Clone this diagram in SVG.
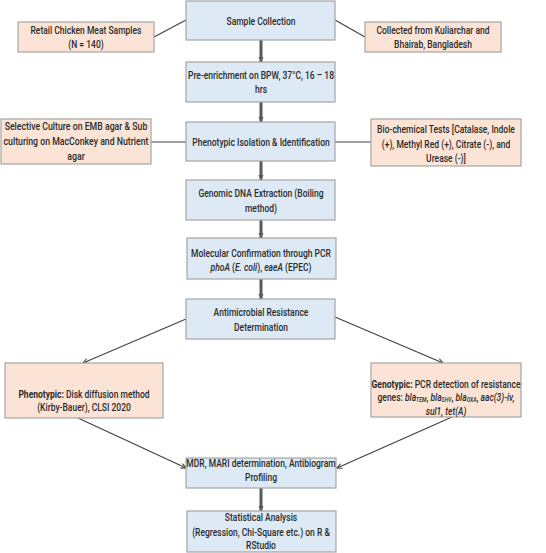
<svg xmlns="http://www.w3.org/2000/svg" width="546" height="553" viewBox="0 0 546 553">
<style>
.blue{fill:#dde9f5;stroke:#a6a6a6;stroke-width:1.2}
.peach{fill:#fbe4d5;stroke:#a6a6a6;stroke-width:1.2}
text{font-family:"Roboto","Liberation Sans",sans-serif;font-size:11.5px;font-weight:500;fill:#2b2b2b;text-anchor:middle}
.b{font-weight:bold}
.i{font-style:italic}
.thick{stroke:#595959;stroke-width:3;fill:none}
.thin{stroke:#404040;stroke-width:1.1;fill:none}
</style>
<defs>
<marker id="ah" markerWidth="6" markerHeight="6" refX="5" refY="3" orient="auto" markerUnits="userSpaceOnUse">
<path d="M0,0.5 L5,3 L0,5.5 Z" fill="#595959"/>
</marker>
<marker id="av" markerWidth="7" markerHeight="7" refX="6" refY="3.5" orient="auto" markerUnits="userSpaceOnUse">
<path d="M1,1 L6,3.5 L1,6" fill="none" stroke="#404040" stroke-width="1.1"/>
</marker>
</defs>
<g id="connectors">
<line class="thin" x1="154" y1="37" x2="186" y2="20"/>
<line class="thin" x1="335" y1="20" x2="365" y2="37"/>
<line class="thick" x1="261" y1="40" x2="261" y2="62" marker-end="url(#ah)"/>
<line class="thick" x1="261" y1="102" x2="261" y2="122" marker-end="url(#ah)"/>
<line class="thin" x1="151" y1="142" x2="186" y2="142"/>
<line class="thin" x1="335" y1="142" x2="371" y2="142"/>
<line class="thick" x1="261" y1="161" x2="261" y2="180" marker-end="url(#ah)"/>
<line class="thick" x1="261" y1="220" x2="261" y2="238" marker-end="url(#ah)"/>
<line class="thick" x1="261" y1="279" x2="261" y2="299" marker-end="url(#ah)"/>
<line class="thin" x1="186" y1="319" x2="83" y2="363" marker-end="url(#av)"/>
<line class="thin" x1="335" y1="317" x2="443" y2="363" marker-end="url(#av)"/>
<line class="thin" x1="78" y1="418" x2="186" y2="468" marker-end="url(#av)"/>
<line class="thin" x1="452" y1="417" x2="337" y2="468" marker-end="url(#av)"/>
<line class="thick" x1="261" y1="488" x2="261" y2="511" marker-end="url(#ah)"/>
</g>
<g id="sample"><rect class="blue" x="186" y="1" width="149" height="39"/><g transform="matrix(0.74,0,0,1,261,0)"><text x="0" y="25">Sample Collection</text></g></g>
<g id="retail"><rect class="peach" x="18" y="22" width="136" height="30"/><g transform="matrix(0.74,0,0,1,86,0)"><text x="0" y="34">Retail Chicken Meat Samples</text><text x="0" y="48">(N = 140)</text></g></g>
<g id="collected"><rect class="peach" x="365" y="22" width="136" height="30"/><g transform="matrix(0.74,0,0,1,433,0)"><text x="0" y="34">Collected from Kuliarchar and</text><text x="0" y="48">Bhairab, Bangladesh</text></g></g>
<g id="preenrich"><rect class="blue" x="186" y="62" width="149" height="40"/><g transform="matrix(0.74,0,0,1,261,0)"><text x="0" y="79">Pre-enrichment on BPW, 37°C, 16 – 18</text><text x="0" y="93">hrs</text></g></g>
<g id="selective"><rect class="peach" x="1" y="119" width="150" height="45"/><g transform="matrix(0.76,0,0,1,76,0)"><text x="0" y="130">Selective Culture on EMB agar &amp; Sub</text><text x="0" y="145">culturing on MacConkey and Nutrient</text><text x="0" y="160">agar</text></g></g>
<g id="phenoiso"><rect class="blue" x="186" y="122" width="149" height="39"/><g transform="matrix(0.74,0,0,1,261,0)"><text x="0" y="146">Phenotypic Isolation &amp; Identification</text></g></g>
<g id="biochem"><rect class="peach" x="371" y="119" width="150" height="47"/><g transform="matrix(0.74,0,0,1,446,0)"><text x="0" y="133">Bio-chemical Tests [Catalase, Indole</text><text x="0" y="148">(+), Methyl Red (+), Citrate (-), and</text><text x="0" y="162">Urease (-)]</text></g></g>
<g id="genomic"><rect class="blue" x="186" y="180" width="149" height="40"/><g transform="matrix(0.74,0,0,1,261,0)"><text x="0" y="197">Genomic DNA Extraction (Boiling</text><text x="0" y="212">method)</text></g></g>
<g id="molecular"><rect class="blue" x="187" y="238" width="149" height="41"/><g transform="matrix(0.74,0,0,1,261,0)"><text x="0" y="257">Molecular Confirmation through PCR</text><text x="0" y="271"><tspan class="i">phoA</tspan> (<tspan class="i">E. coli</tspan>), <tspan class="i">eaeA</tspan> (EPEC)</text></g></g>
<g id="amr"><rect class="blue" x="186" y="299" width="149" height="40"/><g transform="matrix(0.74,0,0,1,261,0)"><text x="0" y="316">Antimicrobial Resistance</text><text x="0" y="331">Determination</text></g></g>
<g id="phenotypic"><rect class="peach" x="5" y="363" width="158" height="55"/><g transform="matrix(0.74,0,0,1,84,0)"><text x="0" y="398"><tspan class="b">Phenotypic:</tspan> Disk diffusion method</text><text x="0" y="411">(Kirby-Bauer), CLSI 2020</text></g></g>
<g id="genotypic"><rect class="peach" x="371" y="363" width="150" height="54"/><g transform="matrix(0.74,0,0,1,446,0)"><text x="0" y="388"><tspan class="b">Genotypic:</tspan> PCR detection of resistance</text><text x="0" y="401">genes: <tspan class="i">bla</tspan><tspan class="i" font-size="7" dy="1.5">TEM</tspan><tspan dy="-1.5">, </tspan><tspan class="i">bla</tspan><tspan class="i" font-size="7" dy="1.5">SHV</tspan><tspan dy="-1.5">, </tspan><tspan class="i">bla</tspan><tspan class="i" font-size="7" dy="1.5">OXA</tspan><tspan dy="-1.5">, </tspan><tspan class="i">aac(3)-iv,</tspan></text><text x="0" y="415" class="i">sul1, tet(A)</text></g></g>
<g id="mdr"><rect class="blue" x="186" y="458" width="150" height="30"/><g transform="matrix(0.74,0,0,1,261,0)"><text x="0" y="467">MDR, MARI determination, Antibiogram</text><text x="0" y="481">Profiling</text></g></g>
<g id="stats"><rect class="blue" x="187" y="511" width="149" height="41"/><g transform="matrix(0.74,0,0,1,261,0)"><text x="0" y="521">Statistical Analysis</text><text x="0" y="536">(Regression, Chi-Square etc.) on R &amp;</text><text x="0" y="549">RStudio</text></g></g>
</svg>
